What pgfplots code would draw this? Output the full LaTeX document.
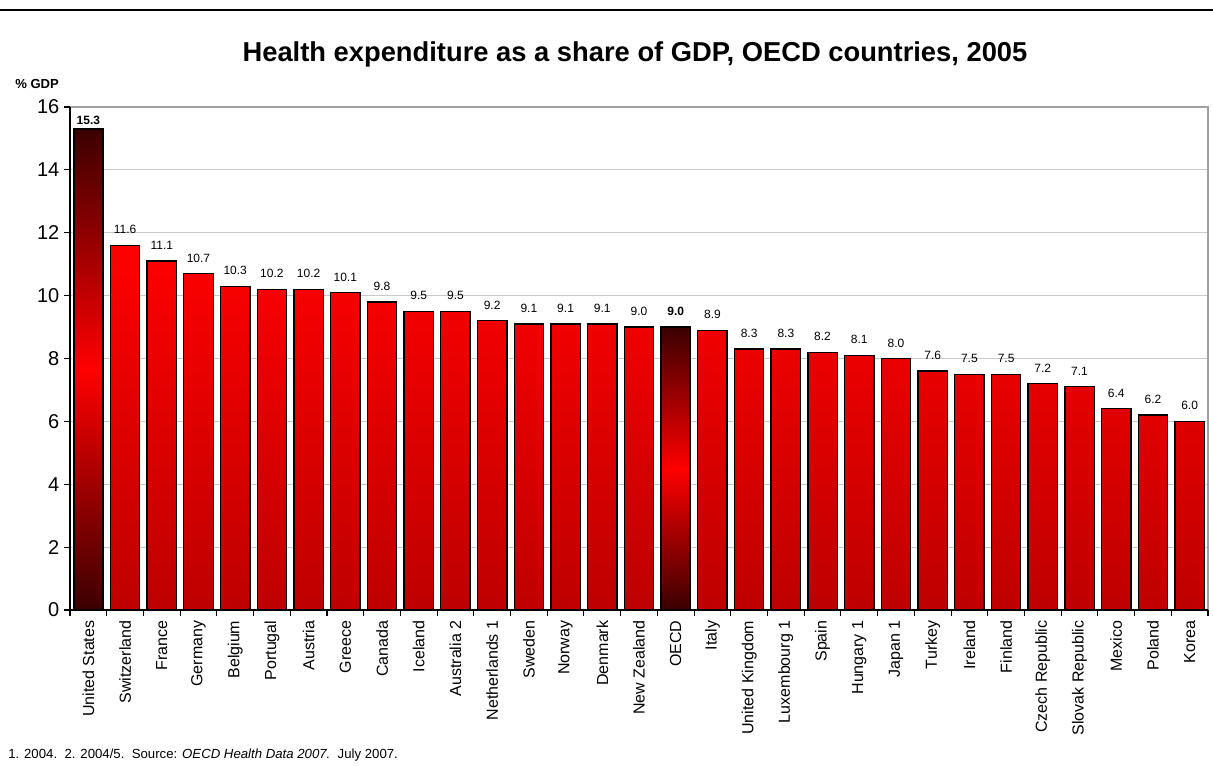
\documentclass[border=0pt]{standalone}
\usepackage{pgfplots}
\pgfplotsset{compat=1.18}
\usepackage{fontspec}
\setmainfont{Liberation Sans}
\definecolor{gridgray}{HTML}{C8C8C8}
\definecolor{framegray}{HTML}{A0A0A0}
\definecolor{darkred}{HTML}{3A0000}
\definecolor{barbottom}{HTML}{BE0000}
\pgfdeclareverticalshading{darkmid}{100bp}{color(0bp)=(darkred); color(25bp)=(darkred); color(50bp)=(red); color(75bp)=(darkred); color(100bp)=(darkred)}
\begin{document}
\begin{tikzpicture}
\useasboundingbox (0,0) rectangle (909.75pt,573.75pt);
\draw[black,line width=1.5pt] (0,566.25pt) -- (909.75pt,566.25pt);
\node[font=\fontsize{20.5}{23}\selectfont\bfseries] at (476.25pt,533pt) {Health expenditure as a share of GDP, OECD countries, 2005};
\node[anchor=west,font=\fontsize{9.8}{11}\selectfont\bfseries,inner sep=0pt] at (11.25pt,511pt) {\% GDP};
\node[anchor=base west,font=\fontsize{9.9}{11}\selectfont,inner sep=0pt] at (6pt,5pt) {1. 2004.\ \ 2. 2004/5.\ \ Source: \textit{OECD Health Data 2007.}\ \ July 2007.};
\begin{axis}[
  at={(52.5pt,116.25pt)}, anchor=south west,
  width=853.5pt, height=377.25pt, scale only axis,
  xmin=-0.5, xmax=30.5, ymin=0, ymax=16,
  ytick={0,2,...,16},
  xtick={0,...,30},
  xticklabels={United States,Switzerland,France,Germany,Belgium,Portugal,Austria,Greece,Canada,Iceland,Australia 2,Netherlands 1,Sweden,Norway,Denmark,New Zealand,OECD,Italy,United Kingdom,Luxembourg 1,Spain,Hungary 1,Japan 1,Turkey,Ireland,Finland,Czech Republic,Slovak Republic,Mexico,Poland,Korea},
  x tick label style={rotate=90,anchor=east,font=\fontsize{12}{14}\selectfont},
  y tick label style={font=\fontsize{15}{17}\selectfont},
  /pgf/number format/assume math mode=true,
  major x tick style={draw=none},
  minor xtick={-0.5,0.5,...,30.5},
  minor tick length=4.5pt, major tick length=4.5pt,
  tick align=outside,
  tick style={black, line width=0.8pt},
  xtick pos=bottom, ytick pos=left,
  ymajorgrids, grid style={gridgray,line width=0.8pt},
  axis line style={draw=none},
  clip=false,
  bar width=0.8,
  nodes near coords={\pgfmathprintnumber[fixed,fixed zerofill,precision=1]{\pgfplotspointmeta}},
  every node near coord/.append style={font=\fontsize{9}{10}\selectfont, inner sep=1pt, yshift=7pt},
]
\draw[framegray,line width=1.2pt] (axis cs:-0.5,16) -- (axis cs:30.5,16) -- (axis cs:30.5,0);
\addplot[ybar, bar shift=0pt, draw=black, line width=1pt, top color=red, bottom color=barbottom] coordinates {
(1,11.6) (2,11.1) (3,10.7) (4,10.3) (5,10.2) (6,10.2) (7,10.1) (8,9.8) (9,9.5) (10,9.5)
(11,9.2) (12,9.1) (13,9.1) (14,9.1) (15,9.0) (17,8.9) (18,8.3) (19,8.3) (20,8.2)
(21,8.1) (22,8.0) (23,7.6) (24,7.5) (25,7.5) (26,7.2) (27,7.1) (28,6.4) (29,6.2) (30,6.0)};
\addplot[ybar, bar shift=0pt, draw=black, line width=1.5pt, shading=darkmid,
  every node near coord/.append style={font=\fontsize{9}{10}\selectfont\bfseries, yshift=-5.5pt}] coordinates {(0,15.3)};
\addplot[ybar, bar shift=0pt, draw=black, line width=1.5pt, shading=darkmid,
  every node near coord/.append style={font=\fontsize{9}{10}\selectfont\bfseries}] coordinates {(16,9.0)};
\draw[black,line width=1.2pt] (axis cs:-0.5,0) -- (axis cs:-0.5,16);
\draw[black,line width=1.2pt] (axis cs:-0.5,0) -- (axis cs:30.5,0);
\end{axis}
\end{tikzpicture}
\end{document}
